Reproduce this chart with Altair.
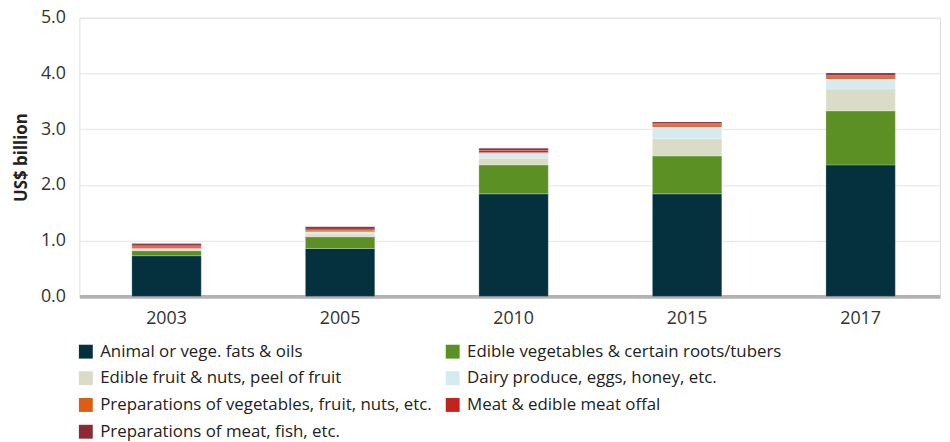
import altair as alt
import pandas as pd

years = ["2003", "2005", "2010", "2015", "2017"]
categories = [
    "Animal or vege. fats & oils",
    "Edible vegetables & certain roots/tubers",
    "Edible fruit & nuts, peel of fruit",
    "Dairy produce, eggs, honey, etc.",
    "Preparations of vegetables, fruit, nuts, etc.",
    "Meat & edible meat offal",
    "Preparations of meat, fish, etc.",
]
colors = ["#05313f", "#5b9124", "#dadcc6", "#d5ebf0", "#dc5e14", "#c0241f", "#8c2a33"]

fats = [0.73, 0.86, 1.84, 1.84, 2.36]
veg = [0.09, 0.21, 0.52, 0.68, 0.97]
fruit = [0.03, 0.05, 0.12, 0.31, 0.39]
dairy = [0.01, 0.04, 0.09, 0.21, 0.18]
prep_veg = [0.03, 0.03, 0.01, 0.04, 0.04]
meat = [0.03, 0.02, 0.04, 0.02, 0.03]
prep_meat = [0.03, 0.04, 0.04, 0.03, 0.04]

series = [fats, veg, fruit, dairy, prep_veg, meat, prep_meat]
rows = []
for ci, (cat, vals) in enumerate(zip(categories, series)):
    for y, v in zip(years, vals):
        rows.append({"Year": y, "Category": cat, "Value": v, "Order": ci})
df = pd.DataFrame(rows)

FONT = "Open Sans"

chart = alt.Chart(df).mark_bar(stroke="white", strokeWidth=0.4, strokeOpacity=0.6).encode(
    x=alt.X("Year:N", sort=years,
            scale=alt.Scale(paddingInner=0.6, paddingOuter=0.28, align=0.54),
            axis=alt.Axis(title=None, labelAngle=0, labelFontSize=18, labelColor="#333333",
                          labelPadding=13, ticks=False, domainColor="#b3b3b3",
                          domainWidth=4, labelFont=FONT)),
    y=alt.Y("Value:Q", stack="zero",
            scale=alt.Scale(domain=[0, 5]),
            axis=alt.Axis(title="US$ billion", format=".1f", values=[0, 1, 2, 3, 4, 5],
                          labelFontSize=18, labelColor="#333333", labelPadding=14,
                          ticks=False, domain=False, gridColor="#e5e5e5",
                          titleFontSize=17, titleFontWeight="bold", titleColor="#222222",
                          titlePadding=10, labelFont=FONT, titleFont=FONT)),
    color=alt.Color("Category:N", sort=categories,
                    scale=alt.Scale(domain=categories, range=colors),
                    legend=alt.Legend(title=None, orient="none", legendX=-2, legendY=328,
                                      direction="horizontal",
                                      columns=2, symbolType="square", symbolSize=196,
                                      symbolStrokeWidth=0, labelFontSize=17, labelFont=FONT,
                                      labelColor="#222222", rowPadding=9, columnPadding=12,
                                      labelLimit=400, symbolOffset=0, labelOffset=6)),
    order=alt.Order("Order:Q", sort="ascending"),
).properties(
    width=868, height=281,
    autosize=alt.AutoSizeParams(type="none"),
    padding={"left": 72, "top": 8, "right": 2, "bottom": 145},
).configure_view(stroke=None).configure(font=FONT)

chart.save("out.html", embed_options={"renderer": "svg", "actions": False})
